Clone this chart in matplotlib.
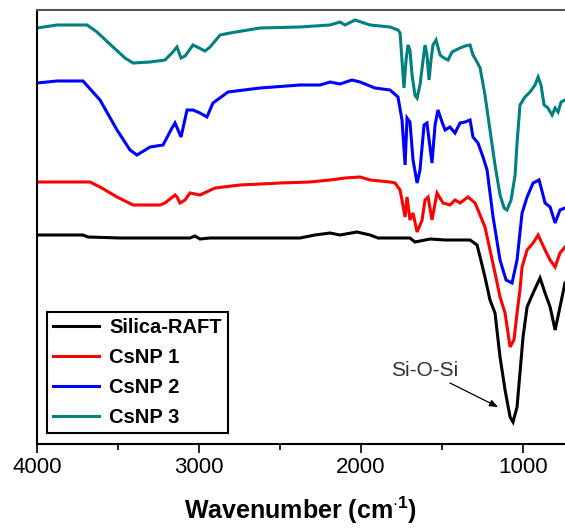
import matplotlib
matplotlib.use("Agg")
import matplotlib.pyplot as plt

plt.rcParams['font.family'] = ['Liberation Sans', 'DejaVu Sans']
plt.rcParams['mathtext.fontset'] = 'custom'
plt.rcParams['mathtext.rm'] = 'Liberation Sans'
plt.rcParams['mathtext.bf'] = 'Liberation Sans:bold'

# ---- data (wavenumber in cm^-1, transmittance in arbitrary offset units) ----
silica_w = [4000, 3716, 3685, 3488, 3056, 3025, 2994, 2932, 2377, 2284, 2191, 2130, 2025, 1944,
            1895, 1698, 1667, 1636, 1574, 1481, 1327, 1284, 1265, 1235, 1204, 1173, 1142, 1111,
            1080, 1062, 1037, 1019, 1000, 975, 938, 895, 864, 833, 802, 772, 741]
silica_t = [209, 209, 207, 206, 206, 208, 205, 206, 206, 209, 211, 209, 212, 209,
            206, 206, 202, 203, 205, 204, 204, 199, 187, 167, 144, 131, 87, 54,
            27, 22, 37, 71, 107, 137, 151, 166, 151, 137, 114, 137, 161]

csnp1_w = [4000, 3673, 3611, 3506, 3407, 3241, 3210, 3148, 3136, 3117, 3086, 3056, 2994, 2901,
           2747, 2500, 2315, 2191, 2099, 2006, 1944, 1821, 1790, 1759, 1728, 1716, 1698, 1679,
           1654, 1623, 1605, 1586, 1562, 1531, 1494, 1451, 1420, 1389, 1340, 1296, 1278, 1235,
           1204, 1173, 1142, 1111, 1080, 1056, 1037, 1019, 1006, 975, 938, 907, 864, 833, 802,
           772, 741]
csnp1_t = [262, 262, 257, 247, 239, 239, 241, 249, 247, 241, 244, 251, 249, 256,
           259, 261, 262, 264, 266, 267, 264, 262, 261, 254, 227, 247, 224, 231,
           212, 224, 244, 247, 224, 251, 241, 239, 244, 241, 247, 241, 234, 217,
           194, 171, 147, 131, 97, 104, 131, 154, 177, 194, 201, 209, 194, 184, 177,
           191, 197]

csnp2_w = [4000, 3877, 3716, 3611, 3506, 3426, 3383, 3302, 3222, 3167, 3148, 3111, 3074, 3037,
           2994, 2951, 2914, 2821, 2623, 2377, 2253, 2191, 2130, 2056, 2006, 1914, 1821, 1772,
           1747, 1728, 1716, 1698, 1679, 1654, 1636, 1611, 1593, 1562, 1543, 1525, 1500, 1481,
           1451, 1420, 1389, 1358, 1327, 1309, 1278, 1247, 1222, 1185, 1142, 1105, 1068, 1037,
           1006, 975, 938, 901, 864, 833, 802, 772, 741]
csnp2_t = [361, 363, 363, 344, 314, 294, 289, 297, 299, 316, 321, 307, 334, 334,
           331, 327, 341, 352, 356, 359, 359, 362, 360, 364, 362, 356, 354, 347,
           324, 279, 326, 322, 284, 261, 274, 319, 321, 281, 319, 334, 322, 314,
           317, 311, 321, 322, 324, 307, 301, 287, 274, 227, 184, 164, 161, 184,
           231, 247, 261, 264, 241, 237, 221, 234, 236]

csnp3_w = [4000, 3877, 3691, 3630, 3531, 3457, 3407, 3302, 3210, 3167, 3136, 3111, 3086, 3037,
           3012, 2963, 2932, 2870, 2809, 2623, 2377, 2191, 2130, 2099, 2037, 1944, 1821, 1772,
           1759, 1735, 1722, 1710, 1698, 1685, 1667, 1654, 1636, 1617, 1605, 1593, 1580, 1568,
           1556, 1537, 1512, 1488, 1463, 1438, 1414, 1389, 1358, 1327, 1309, 1284, 1265, 1235,
           1204, 1173, 1142, 1117, 1099, 1074, 1049, 1037, 1019, 988, 957, 926, 907, 889, 870,
           846, 821, 802, 784, 765, 741]
csnp3_t = [416, 419, 419, 412, 397, 386, 381, 382, 384, 391, 397, 386, 388, 399,
           397, 393, 397, 409, 411, 416, 417, 419, 422, 419, 424, 419, 417, 414,
           411, 356, 384, 399, 394, 369, 349, 346, 359, 384, 399, 389, 364, 384,
           399, 404, 389, 386, 384, 392, 394, 396, 398, 399, 389, 382, 376, 349,
           314, 279, 249, 236, 234, 244, 269, 301, 339, 347, 352, 359, 367, 359, 339,
           336, 329, 336, 332, 342, 344]

series_labels = ['Silica-RAFT', 'CsNP 1', 'CsNP 2', 'CsNP 3']
series_colors = ['#000000', '#ff0000', '#0000ff', '#008080']
major_ticks = [4000, 3000, 2000, 1000]
minor_ticks = [3500, 2500, 1500]
annotation_text = 'Si-O-Si'
annot_xy = (1154, 37)
annot_from = (1451, 61)
annot_text_xy = (1605, 74)

fig = plt.figure(figsize=(5.65, 5.29), dpi=100)
ax = fig.add_axes([37/565, 1-444/529, 528/565, 434/529])

data = [(silica_w, silica_t), (csnp1_w, csnp1_t), (csnp2_w, csnp2_t), (csnp3_w, csnp3_t)]
for (w, t), lab, col in zip(data, series_labels, series_colors):
    ax.plot(w, t, color=col, lw=2.2, label=lab, solid_joinstyle='miter')

ax.set_xlim(4000, 741)
ax.set_ylim(0, 434)
ax.set_xticks(major_ticks)
ax.set_xticks(minor_ticks, minor=True)
ax.set_yticks([])
ax.tick_params(axis='x', which='major', direction='out', length=6.5, width=1.2,
               labelsize=16, pad=3)
ax.tick_params(axis='x', which='minor', direction='out', length=4, width=1.2)
for s in ['left', 'bottom']:
    ax.spines[s].set_linewidth(1.5)
    ax.spines[s].set_color('black')
ax.spines['top'].set_linewidth(1.5)
ax.spines['top'].set_color('#555555')
ax.spines['right'].set_visible(False)

ax.set_xlabel(r'Wavenumber (cm$^{\mathbf{\cdot 1}}$)', fontsize=18, fontweight='bold', labelpad=12)

ax.text(annot_text_xy[0], annot_text_xy[1], annotation_text, ha='center', va='center',
        fontsize=15, color='#333333')
ax.annotate('', xy=annot_xy, xytext=annot_from,
            arrowprops=dict(arrowstyle='-|>,head_length=0.5,head_width=0.2', color='black',
                            lw=0.9, shrinkA=0, shrinkB=0))

leg = ax.legend(loc='lower left', bbox_to_anchor=(0.019, 0.025), borderaxespad=0,
                frameon=True, fancybox=False, edgecolor='black', framealpha=1,
                prop={'weight': 'bold', 'size': 14.5}, handlelength=2.3,
                labelspacing=0.55, handletextpad=0.5, borderpad=0.3)
leg.get_frame().set_linewidth(1.5)

fig.savefig('out.png', dpi=100)
